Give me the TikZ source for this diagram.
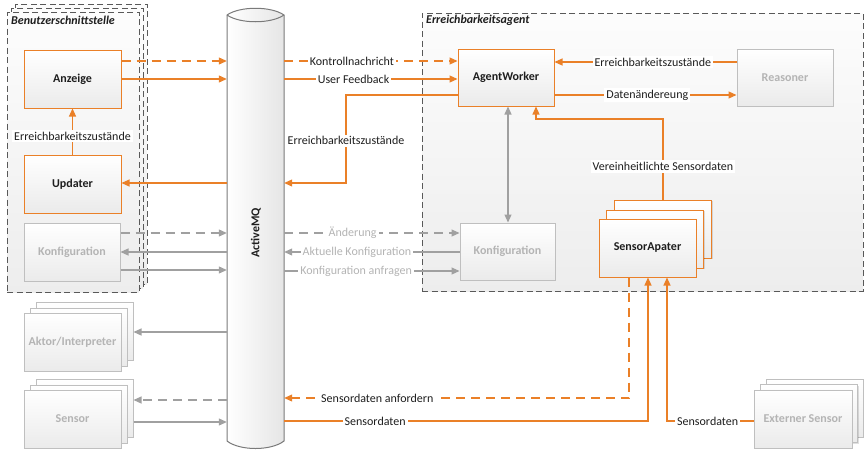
\documentclass[tikz,border=0pt]{standalone}
\usepackage{fontspec}
\setmainfont{Carlito}
\usetikzlibrary{arrows.meta,shadows}
\definecolor{org}{RGB}{234,128,40}
\definecolor{gline}{RGB}{160,160,160}
\definecolor{gtext}{RGB}{180,180,180}
\definecolor{gbord}{RGB}{191,191,191}
\definecolor{dtext}{RGB}{30,30,30}
\definecolor{cbord}{RGB}{89,89,89}
\newcommand{\fsz}{\fontsize{12}{14}\selectfont}
\tikzset{
  x=1pt, y=-1pt,
  box/.style={draw, line width=1pt, top color=white, bottom color=black!8,
    minimum width=97pt, minimum height=58pt, inner sep=0pt, font=\fsz\bfseries,
    drop shadow={shadow xshift=1.2pt, shadow yshift=-1.2pt, fill=black, opacity=0.12}},
  obox/.style={box, draw=org, text=dtext},
  gbox/.style={box, draw=gbord, text=gtext},
  cont/.style={draw=cbord, line width=1pt, dash pattern=on 6pt off 3.5pt,
    top color=black!1, bottom color=black!7, inner sep=0pt},
  lbl/.style={fill=white, inner sep=2pt, font=\fsz, text=dtext},
  glbl/.style={lbl, text=gtext},
  tip/.tip={Triangle[length=8pt,width=7pt]},
  oarr/.style={draw=org, line width=1.1pt, -tip},
  garr/.style={draw=gline, line width=1.1pt, -tip},
  odash/.style={dash pattern=on 9pt off 6pt},
  gdash/.style={dash pattern=on 9pt off 6pt},
}
\begin{document}
\begin{tikzpicture}
\useasboundingbox (0,0) rectangle (868,451);

% containers
\node[cont, minimum width=132pt, minimum height=280pt] (bs3) at (81,144) {};
\node[cont, minimum width=132pt, minimum height=280pt] (bs2) at (77,148) {};
\node[cont, minimum width=132pt, minimum height=280pt] (bs1) at (73,152) {};
\node[anchor=west, font=\fsz\bfseries\itshape, text=dtext, inner sep=0pt] (bst) at (11,20) {Benutzerschnittstelle};

\node[cont, minimum width=441pt, minimum height=278pt] (ea) at (642.5,152) {};
\node[anchor=west, font=\fsz\bfseries\itshape, text=dtext, inner sep=0pt] (eat) at (426,20) {Erreichbarkeitsagent};

% ActiveMQ cylinder
\path[draw=cbord!80, line width=1pt, left color=white, right color=black!10]
  (227,15) -- (227,441) .. controls (240,451) and (271,451) .. (284,441) -- (284,15)
  .. controls (271,6) and (240,6) .. (227,15) -- cycle;
\draw[cbord!80, line width=1pt] (227,15) .. controls (240,24) and (271,24) .. (284,15);
\node[minimum width=57pt, minimum height=426pt, inner sep=0pt] (mq) at (255.5,228) {};
\node[rotate=90, font=\fsz\bfseries, text=dtext] (mqt) at (256,233) {ActiveMQ};

% left boxes
\node[obox] (anz) at (72.5,79) {Anzeige};
\node[obox] (upd) at (72.5,184) {Updater};
\node[gbox, minimum width=96pt] (kl) at (72,252) {Konfiguration};

\node[gbox] (ak3) at (84.5,331) {};
\node[gbox] (ak2) at (78.5,337) {};
\node[gbox] (ak1) at (72.5,342) {Aktor/Interpreter};

\node[gbox] (se3) at (84.5,408) {};
\node[gbox] (se2) at (78.5,414) {};
\node[gbox] (se1) at (72.5,419) {Sensor};

% right boxes
\node[obox, minimum width=96pt, minimum height=57pt] (aw) at (506,77.5) {AgentWorker};
\node[gbox, minimum width=96pt, minimum height=57pt] (rs) at (785,77.5) {Reasoner};
\node[gbox, minimum width=95pt, minimum height=57pt] (kr) at (507.5,251.5) {Konfiguration};

\node[obox] (sa3) at (663,229) {};
\node[obox] (sa2) at (655,239) {};
\node[obox] (sa1) at (647.5,248) {SensorApater};

\node[gbox] (es3) at (814.5,408) {};
\node[gbox] (es2) at (809,413.5) {};
\node[gbox, minimum width=98pt] (es1) at (803,419) {Externer Sensor};

% connectors left
\draw[oarr, odash] (anz.east |- 0,61) -- (mq.west |- 0,61);
\draw[oarr] (anz.east |- 0,79) -- (mq.west |- 0,79);
\draw[oarr] (mq.west |- 0,183) -- (upd.east |- 0,183);
\draw[oarr] (upd) -- node[lbl, pos=0.4] {Erreichbarkeitszustände} (anz);

\draw[garr, gdash] (kl.east |- 0,233) -- (mq.west |- 0,233);
\draw[garr] (mq.west |- 0,252) -- (kl.east |- 0,252);
\draw[garr] (kl.east |- 0,270) -- (mq.west |- 0,270);

\draw[garr] (mq.west |- 0,332) -- (ak3.east |- 0,332);
\draw[garr, gdash] (mq.west |- 0,400) -- (se3.east |- 0,400);
\draw[garr] (se3.east |- 0,422) -- (mq.west |- 0,422);

% connectors right
\draw[oarr, odash] (mq.east |- 0,61) -- node[lbl, pos=0.39] {Kontrollnachricht} (aw.west |- 0,61);
\draw[oarr] (mq.east |- 0,79) -- node[lbl, pos=0.4] {User Feedback} (aw.west |- 0,79);
\draw[oarr] (aw.west |- 0,95) -- (346,95) -- node[lbl, pos=0.52] {Erreichbarkeitszustände} (346,183) -- (mq.east |- 0,183);

\draw[garr, gdash] (mq.east |- 0,233) -- node[glbl, pos=0.39] {Änderung} (kr.west |- 0,233);
\draw[garr] (kr.west |- 0,252) -- node[glbl, pos=0.585] {Aktuelle Konfiguration} (mq.east |- 0,252);
\draw[garr] (mq.east |- 0,271) -- node[glbl, pos=0.41] {Konfiguration anfragen} (kr.west |- 0,271);

\draw[draw=gline, line width=1.1pt, tip-tip] (aw.south -| 508,0) -- (kr.north -| 508,0);

\draw[oarr] (rs.west |- 0,62) -- node[lbl, pos=0.46] {Erreichbarkeitszustände} (aw.east |- 0,62);
\draw[oarr] (aw.east |- 0,95) -- node[lbl, pos=0.51] {Datenändereung} (rs.west |- 0,95);

\draw[oarr] (sa3.north -| 663,0) -- node[lbl, pos=0.41] {Vereinheitlichte Sensordaten} (663,119) -- (536,119) -- (aw.south -| 536,0);

\draw[oarr, odash] (sa1.south -| 629,0) -- (629,398) -- node[lbl, pos=0.73] {Sensordaten anfordern} (mq.east |- 0,398);
\draw[oarr] (mq.east |- 0,421) -- node[lbl, pos=0.25] {Sensordaten} (648,421) -- (sa1.south -| 648,0);
\draw[oarr] (es1.west |- 0,421) -- node[lbl, pos=0.53] {Sensordaten} (667,421) -- (sa1.south -| 667,0);
\end{tikzpicture}
\end{document}
